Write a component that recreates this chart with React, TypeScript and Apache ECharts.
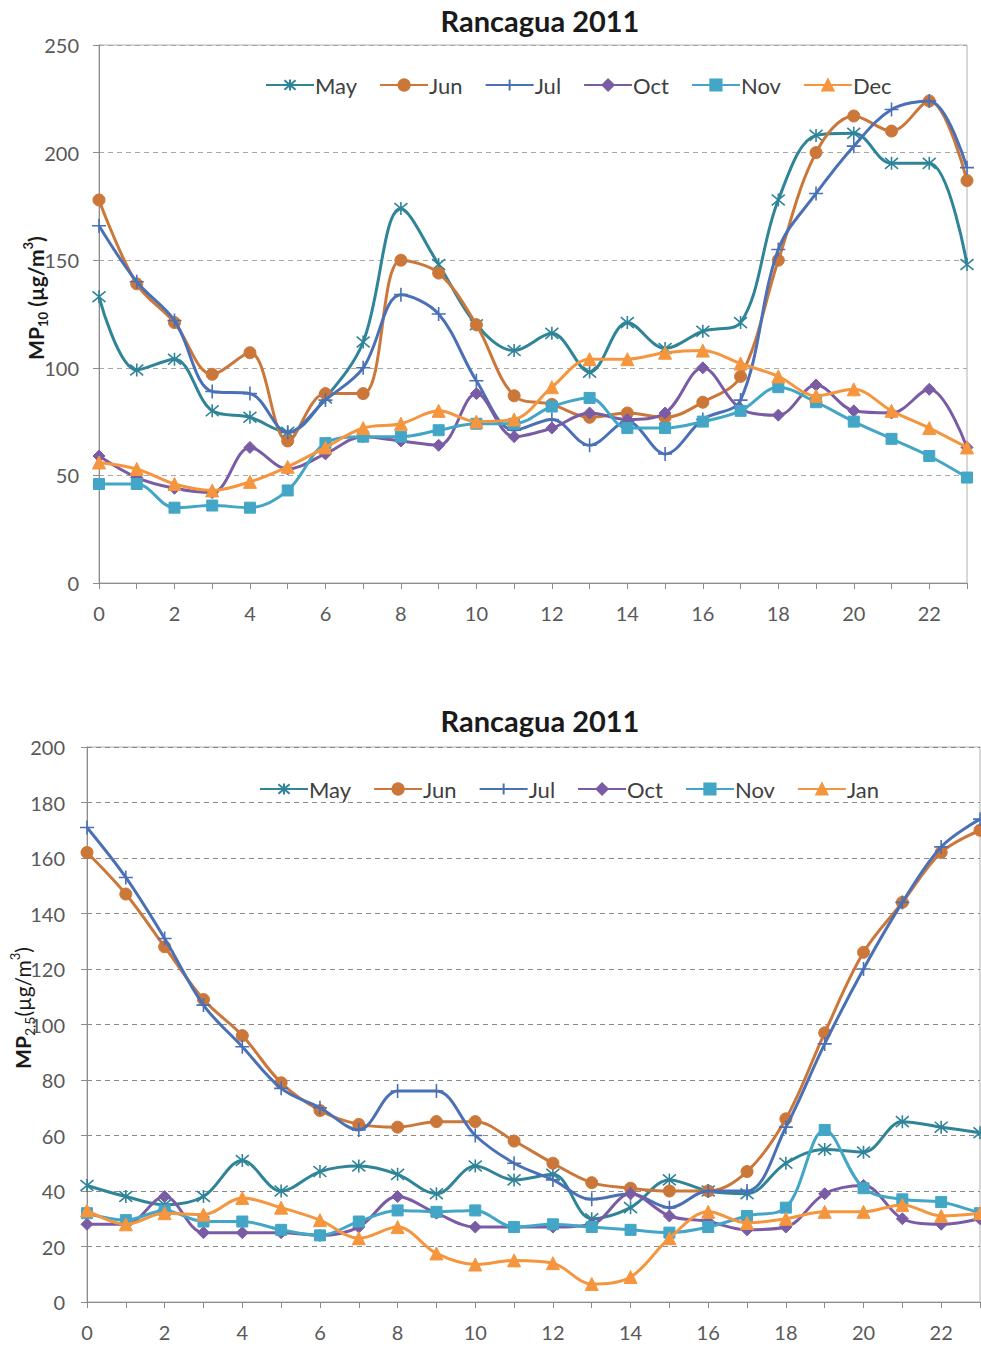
import React, { useEffect, useRef } from "react";
import * as echarts from "echarts";

// ---------- data ----------
const HOURS = ["0","1","2","3","4","5","6","7","8","9","10","11","12","13","14","15","16","17","18","19","20","21","22","23"];

const TITLE = "Rancagua 2011";

// MP10 chart
const PM10_TICKS = [0, 50, 100, 150, 200, 250];
const PM10_MAY = [133, 99, 104, 80, 77, 70, 86, 112, 174, 148, 120, 108, 116, 98, 121, 109, 117, 121, 178, 208, 209, 195, 195, 148];
const PM10_JUN = [178, 139, 121, 97, 107, 66, 88, 88, 150, 144, 120, 87, 83, 77, 79, 77, 84, 96, 150, 200, 217, 210, 224, 187];
const PM10_JUL = [166, 140, 122, 89, 88, 70, 85, 100, 134, 125, 94, 71, 76, 64, 75, 60, 76, 85, 155, 181, 203, 220, 224, 193];
const PM10_OCT = [59, 49, 44, 42, 63, 53, 60, 68, 66, 64, 88, 68, 72, 79, 76, 79, 100, 81, 78, 92, 80, 79, 90, 63];
const PM10_NOV = [46, 46, 35, 36, 35, 43, 65, 68, 68, 71, 74, 74, 82, 86, 72, 72, 75, 80, 91, 84, 75, 67, 59, 49];
const PM10_DEC = [56, 53, 46, 43, 47, 54, 63, 72, 74, 80, 75, 76, 91, 104, 104, 107, 108, 102, 96, 87, 90, 80, 72, 63];
const PM10_NAMES = ["May", "Jun", "Jul", "Oct", "Nov", "Dec"];

// MP2.5 chart
const PM25_TICKS = [0, 20, 40, 60, 80, 100, 120, 140, 160, 180, 200];
const PM25_MAY = [42, 38, 35, 38, 51, 40, 47, 49, 46, 39, 49, 44, 46, 30, 34, 44, 40, 39, 50, 55, 54, 65, 63, 61];
const PM25_JUN = [162, 147, 128, 109, 96, 79, 69, 64, 63, 65, 65, 58, 50, 43, 41, 40, 40, 47, 66, 97, 126, 144, 162, 170];
const PM25_JUL = [171, 153, 131, 107, 92, 77, 70, 62, 76, 76, 60, 50, 44, 37, 39, 34, 40, 40, 63, 93, 120, 144, 164, 174];
const PM25_OCT = [28, 28, 38, 25, 25, 25, 24, 27, 38, 32, 27, 27, 27, 28, 39, 31, 29, 26, 27, 39, 42, 30, 28, 30];
const PM25_NOV = [32, 29.5, 33, 29, 29, 26, 24, 29, 33, 32.5, 33, 27, 28, 27, 26, 25, 27, 31, 34, 62, 41, 37, 36, 32];
const PM25_JAN = [33, 28, 32, 31.5, 37.5, 34, 29.5, 23, 27, 17.5, 13.5, 15, 14, 6.5, 9, 23, 32.5, 28.5, 30, 32.5, 32.5, 35, 31, 32];
const PM25_NAMES = ["May", "Jun", "Jul", "Oct", "Nov", "Jan"];

// ---------- styles ----------
const COLORS = ["#2F8498", "#CC773A", "#4A70B6", "#7A5CA5", "#43A6C6", "#F5963F"];
const STAR = "path://M0,0L10,10M0,10L10,0M5,-1L5,11";
const PLUS = "path://M0,5L10,5M5,0L5,10";
const FONT = "Lato, 'Open Sans', sans-serif";

function makeSeries(names: string[], values: number[][]) {
  const symbols = [STAR, "circle", PLUS, "diamond", "rect", "triangle"];
  const sizes: any[] = [13, 12, 14, 12, 11, 13];
  return names.map((name, i) => {
    const c = COLORS[i];
    const open = i === 0 || i === 2;
    return {
      name,
      type: "line",
      data: values[i],
      smooth: 0.35,
      symbol: symbols[i],
      symbolSize: sizes[i],
      showAllSymbol: true,
      lineStyle: { color: c, width: 3 },
      itemStyle: open
        ? { color: "rgba(0,0,0,0)", borderColor: c, borderWidth: 1.6 }
        : { color: c, borderColor: c, borderWidth: 1 },
      emphasis: { disabled: true },
      z: 2 + i,
    };
  });
}

function buildOption(cfg: any) {
  return {
    animation: false,
    backgroundColor: "#ffffff",
    title: {
      text: TITLE,
      left: cfg.titleX,
      top: cfg.titleTop,
      textAlign: "center",
      textStyle: { fontFamily: FONT, fontWeight: "bold", fontSize: 29, color: "#1a1a1a" },
    },
    legend: {
      data: cfg.names,
      left: cfg.legendLeft,
      top: cfg.legendTop,
      itemWidth: 48,
      itemHeight: 14,
      itemGap: 22,
      textStyle: { fontFamily: FONT, fontSize: 22, color: "#404040", padding: [0, 0, 0, -4] },
    },
    grid: {
      left: cfg.grid.left,
      top: cfg.grid.top,
      width: cfg.grid.width,
      height: cfg.grid.height,
      show: true,
      borderColor: "#B0B0B0",
      borderWidth: 1,
      containLabel: false,
    },
    xAxis: {
      type: "category",
      data: HOURS,
      boundaryGap: false,
      axisLine: { lineStyle: { color: "#8C8C8C", width: 1 } },
      axisTick: { show: true, interval: 0, length: 6, lineStyle: { color: "#8C8C8C" } },
      axisLabel: { interval: 1, fontFamily: FONT, fontSize: 20, color: "#595959", margin: cfg.xLabelMargin },
      splitLine: { show: false },
    },
    yAxis: {
      type: "value",
      min: cfg.ticks[0],
      max: cfg.ticks[cfg.ticks.length - 1],
      interval: cfg.ticks[1] - cfg.ticks[0],
      axisLine: { show: true, lineStyle: { color: "#8C8C8C", width: 1 } },
      axisTick: { show: true, length: 6, lineStyle: { color: "#8C8C8C" } },
      axisLabel: { fontFamily: FONT, fontSize: 20, color: "#595959", margin: cfg.yLabelMargin },
      splitLine: { show: true, lineStyle: { color: cfg.gridColor, type: [5, 4], width: 1 } },
    },
    graphic: [
      {
        type: "text",
        x: cfg.yNameX,
        y: cfg.yNameY,
        rotation: Math.PI / 2,
        style: {
          text: cfg.yName,
          align: "center",
          verticalAlign: "middle",
          fill: "#1a1a1a",
          rich: {
            a: { fontFamily: FONT, fontSize: 21, fontWeight: "bold", fill: "#1a1a1a", lineHeight: 28, verticalAlign: "middle" },
            n: { fontFamily: FONT, fontSize: 21, fontWeight: "normal", fill: "#1a1a1a", lineHeight: 28, verticalAlign: "middle" },
            s: { fontFamily: FONT, fontSize: 13, fontWeight: "bold", fill: "#1a1a1a", lineHeight: 16, verticalAlign: "bottom" },
            sn: { fontFamily: FONT, fontSize: 14, fontWeight: "normal", fill: "#1a1a1a", lineHeight: 16, verticalAlign: "bottom" },
            p: { fontFamily: FONT, fontSize: 13, fontWeight: "bold", fill: "#1a1a1a", lineHeight: 16, verticalAlign: "top" },
            pn: { fontFamily: FONT, fontSize: 13, fontWeight: "normal", fill: "#1a1a1a", lineHeight: 16, verticalAlign: "top" },
          },
        },
      },
    ],
    series: makeSeries(cfg.names, cfg.values),
  };
}

function Chart({ cfg, style }: { cfg: any; style: any }) {
  const ref = useRef<HTMLDivElement>(null);
  useEffect(() => {
    if (!ref.current) return;
    const chart = echarts.init(ref.current, null, { renderer: "svg" });
    chart.setOption(buildOption(cfg));
    return () => chart.dispose();
  }, []);
  return <div ref={ref} style={style} />;
}

const TOP_CFG = {
  names: PM10_NAMES,
  values: [PM10_MAY, PM10_JUN, PM10_JUL, PM10_OCT, PM10_NOV, PM10_DEC],
  ticks: PM10_TICKS,
  titleX: 535,
  titleTop: 1,
  legendLeft: 260,
  legendTop: 69,
  grid: { left: 99, top: 45, width: 868, height: 538 },
  xLabelMargin: 20,
  yLabelMargin: 20,
  gridColor: "#A8A8A8",
  yName: "{a|MP}{s|10}{a| (µg/m}{p|3}{a|)}",
  yNameX: 35,
  yNameY: 298,
};

const BOTTOM_CFG = {
  names: PM25_NAMES,
  values: [PM25_MAY, PM25_JUN, PM25_JUL, PM25_OCT, PM25_NOV, PM25_JAN],
  ticks: PM25_TICKS,
  titleX: 535,
  titleTop: 41,
  legendLeft: 254,
  legendTop: 113,
  grid: { left: 87, top: 87, width: 893, height: 555 },
  xLabelMargin: 20,
  yLabelMargin: 22,
  gridColor: "#8A8A8A",
  yName: "{a|MP}{sn|2,5}{n|(µg/m}{pn|3}{n|)}",
  yNameX: 22,
  yNameY: 1008 - 660,
};

export default function App() {
  useEffect(() => {
    document.body.style.margin = "0";
  }, []);
  return (
    <div style={{ position: "absolute", left: 0, top: 0, width: 981, height: 1346, background: "#fff" }}>
      <Chart cfg={TOP_CFG} style={{ position: "absolute", left: 0, top: 0, width: 981, height: 660 }} />
      <Chart cfg={BOTTOM_CFG} style={{ position: "absolute", left: 0, top: 660, width: 981, height: 686 }} />
    </div>
  );
}
